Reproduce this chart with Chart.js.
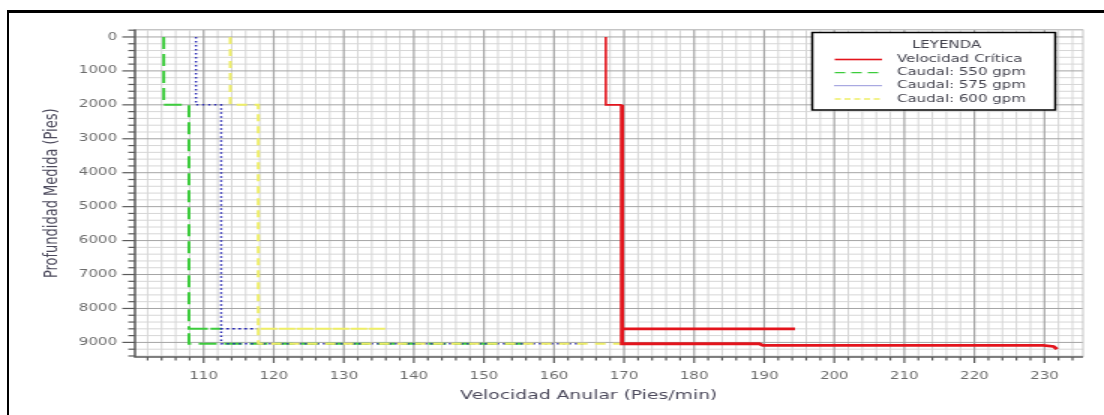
<!DOCTYPE html>
<html>
<head>
<meta charset="utf-8">
<script src="https://cdn.jsdelivr.net/npm/chart.js@4.4.1/dist/chart.umd.min.js"></script>
<style>
  html, body { margin: 0; padding: 0; background: #fff; overflow: hidden; width: 1104px; height: 415px; }
  #frame { position: absolute; left: 7px; top: 10px; width: 1200px; height: 600px;
           border-left: 2px solid #000; border-top: 3px solid #000; box-sizing: border-box; }
  /* the plot is drawn narrow and widened on screen */
  #plot { position: absolute; left: 0; top: 0; transform: scaleX(1.5); transform-origin: 0 0; }
</style>
</head>
<body>
<div id="frame"></div>
<canvas id="plot" width="736" height="415"></canvas>
<script>
// Axis ticks
const xTicks = [110, 120, 130, 140, 150, 160, 170, 180, 190, 200, 210, 220, 230];
const yTicks = [0, 1000, 2000, 3000, 4000, 5000, 6000, 7000, 8000, 9000];

// Velocidad crítica (pies/min) vs profundidad medida (pies)
const velCritica   = [167.4, 167.4, 169.7, 169.7, 194.4, 169.7, 169.7, 189.3, 189.8, 229.8, 231.3, 231.8];
const depthCritica = [0, 2000, 2000, 8600, 8600, 8600, 9040, 9040, 9090, 9090, 9120, 9200];

// Velocidad anular para cada caudal
const vel550   = [104.3, 104.3, 107.9, 107.9, 112.6, 107.9, 107.9, 156.6];
const depth550 = [0, 2000, 2000, 8600, 8600, 8600, 9040, 9040];

const vel575   = [108.9, 108.9, 112.5, 112.5, 117.7, 112.5, 112.5, 164.2];
const depth575 = [0, 2000, 2000, 8600, 8600, 8600, 9040, 9040];

const vel600   = [113.8, 113.8, 117.8, 117.8, 136.0, 117.8, 117.8, 170.2];
const depth600 = [0, 2000, 2000, 8600, 8600, 8600, 9040, 9040];

const seriesNames = ['Velocidad Crítica', 'Caudal: 550 gpm', 'Caudal: 575 gpm', 'Caudal: 600 gpm'];
const legendTitle = 'LEYENDA';
const xTitle = 'Velocidad Anular (Pies/min)';
const yTitle = 'Profundidad Medida (Pies)';

const xMinorStep = 2;
const yMinorStep = 200;

const pts = (xs, ys) => xs.map((x, i) => ({ x: x, y: ys[i] }));
const FONT = 'DejaVu Sans';

// minor + major grid, axis lines and tick marks
const gridPlugin = {
  id: 'grid',
  beforeDatasetsDraw(chart) {
    const { ctx, chartArea: a, scales: { x, y } } = chart;
    ctx.save();
    const vline = (v, color, w) => {
      const px = x.getPixelForValue(v);
      ctx.strokeStyle = color; ctx.lineWidth = w;
      ctx.beginPath(); ctx.moveTo(px, a.top); ctx.lineTo(px, a.bottom); ctx.stroke();
    };
    const hline = (v, color, w) => {
      const py = y.getPixelForValue(v);
      ctx.strokeStyle = color; ctx.lineWidth = w;
      ctx.beginPath(); ctx.moveTo(a.left, py); ctx.lineTo(a.right, py); ctx.stroke();
    };
    const xStart = Math.ceil(x.min / xMinorStep) * xMinorStep;
    for (let v = xStart; v <= x.max; v += xMinorStep) {
      if (!xTicks.includes(v)) vline(v, '#d6d6d6', 1);
    }
    const yStart = Math.ceil(y.min / yMinorStep) * yMinorStep;
    for (let v = yStart; v <= y.max; v += yMinorStep) {
      if (!yTicks.includes(v)) hline(v, '#d6d6d6', 1);
    }
    xTicks.forEach(v => vline(v, '#a4a4a4', 1.2));
    yTicks.forEach(v => hline(v, '#a4a4a4', 1));

    // frame of the plot
    ctx.strokeStyle = '#c4c4c4'; ctx.lineWidth = 1;
    ctx.beginPath(); ctx.moveTo(a.left, a.top); ctx.lineTo(a.right, a.top); ctx.lineTo(a.right, a.bottom); ctx.stroke();

    // axis lines
    ctx.strokeStyle = '#5a5a5a'; ctx.lineWidth = 1.5;
    ctx.beginPath(); ctx.moveTo(a.left, a.top); ctx.lineTo(a.left, a.bottom); ctx.lineTo(a.right, a.bottom); ctx.stroke();

    // tick marks
    ctx.lineWidth = 1.2;
    for (let v = xStart; v <= x.max; v += xMinorStep) {
      const px = x.getPixelForValue(v);
      const len = xTicks.includes(v) ? 6 : 3.5;
      ctx.beginPath(); ctx.moveTo(px, a.bottom); ctx.lineTo(px, a.bottom + len); ctx.stroke();
    }
    for (let v = yStart; v <= y.max; v += yMinorStep) {
      const py = y.getPixelForValue(v);
      const len = yTicks.includes(v) ? 8.5 : 4.5;
      ctx.beginPath(); ctx.moveTo(a.left - len, py); ctx.lineTo(a.left, py); ctx.stroke();
    }
    ctx.restore();
  }
};

// x axis title
const xTitlePlugin = {
  id: 'xTitle',
  afterDraw(chart) {
    const ctx = chart.ctx;
    ctx.save();
    ctx.font = '12.5px "' + FONT + '"';
    ctx.fillStyle = '#4c4a5c';
    ctx.textAlign = 'center';
    ctx.textBaseline = 'middle';
    ctx.fillText(xTitle, 392.5, 396);
    ctx.restore();
  }
};

// boxed legend inside the plot
const legendPlugin = {
  id: 'boxLegend',
  afterDatasetsDraw(chart) {
    const ctx = chart.ctx;
    const box = { l: 541.5, t: 32.5, r: 703.5, b: 110 };
    ctx.save();
    ctx.fillStyle = '#fff';
    ctx.fillRect(box.l, box.t, box.r - box.l, box.b - box.t);
    ctx.strokeStyle = '#000'; ctx.lineWidth = 1.5;
    ctx.strokeRect(box.l, box.t, box.r - box.l, box.b - box.t);
    ctx.font = '10px "' + FONT + '"';
    ctx.fillStyle = '#454550';
    ctx.textBaseline = 'middle';
    ctx.textAlign = 'center';
    ctx.fillText(legendTitle, 631, 45.5);
    ctx.textAlign = 'left';
    const rows = [59.5, 72.7, 85.7, 99];
    chart.data.datasets.forEach((ds, i) => {
      const yy = rows[i];
      ctx.strokeStyle = ds.borderColor;
      ctx.lineWidth = ds.legendWidth;
      ctx.setLineDash(ds.legendDash);
      ctx.beginPath(); ctx.moveTo(556.5, yy); ctx.lineTo(588, yy); ctx.stroke();
      ctx.setLineDash([]);
      ctx.fillText(ds.label, 598, yy);
    });
    ctx.restore();
  }
};

new Chart(document.getElementById('plot'), {
  type: 'scatter',
  data: {
    datasets: [
      {
        label: seriesNames[0], data: pts(velCritica, depthCritica), showLine: true,
        borderColor: '#e3141c', borderWidth: 2.8, order: 0,
        segment: { borderWidth: c => (c.p1DataIndex <= 2 ? 1.6 : undefined) },
        legendDash: [], legendWidth: 1.6
      },
      {
        label: seriesNames[1], data: pts(vel550, depth550), showLine: true,
        borderColor: '#3ccc3c', borderWidth: 2, borderDash: [12, 5], order: 3,
        legendDash: [7, 4], legendWidth: 1.3
      },
      {
        label: seriesNames[2], data: pts(vel575, depth575), showLine: true,
        borderColor: '#2a2ab4', borderWidth: 1.5, borderDash: [1.5, 2.5], order: 2,
        legendDash: [1, 1], legendWidth: 1
      },
      {
        label: seriesNames[3], data: pts(vel600, depth600), showLine: true,
        borderColor: '#eeee66', borderWidth: 2, borderDash: [7, 5], order: 1,
        legendDash: [4, 2.5], legendWidth: 1.3
      }
    ]
  },
  options: {
    responsive: false,
    animation: false,
    devicePixelRatio: 1,
    layout: { padding: { left: 0, right: 14, top: 29.5, bottom: 0 } },
    elements: { point: { radius: 0, hoverRadius: 0 }, line: { tension: 0 } },
    plugins: { legend: { display: false }, tooltip: { enabled: false } },
    scales: {
      x: {
        type: 'linear', min: 100.2, max: 235.5,
        afterBuildTicks: s => { s.ticks = xTicks.map(v => ({ value: v })); },
        afterFit: s => { s.height = 58; },
        grid: { display: false, drawTicks: false },
        border: { display: false },
        ticks: {
          autoSkip: false, maxRotation: 0, padding: 13, color: '#6c6c6c',
          font: { family: FONT, size: 10 }, callback: v => String(v)
        }
      },
      y: {
        type: 'linear', reverse: true, min: -220, max: 9430,
        afterBuildTicks: s => { s.ticks = yTicks.map(v => ({ value: v })); },
        afterFit: s => { s.width = 90; },
        grid: { display: false, drawTicks: false },
        border: { display: false },
        ticks: {
          autoSkip: false, padding: 12, color: '#6c6c6c',
          font: { family: FONT, size: 10 }, callback: v => String(v)
        },
        title: {
          display: true, text: yTitle, color: '#4c4a5c',
          padding: { top: 26.5, bottom: 0 },
          font: { family: FONT, size: 13 }
        }
      }
    }
  },
  plugins: [gridPlugin, legendPlugin, xTitlePlugin]
});
</script>
</body>
</html>
